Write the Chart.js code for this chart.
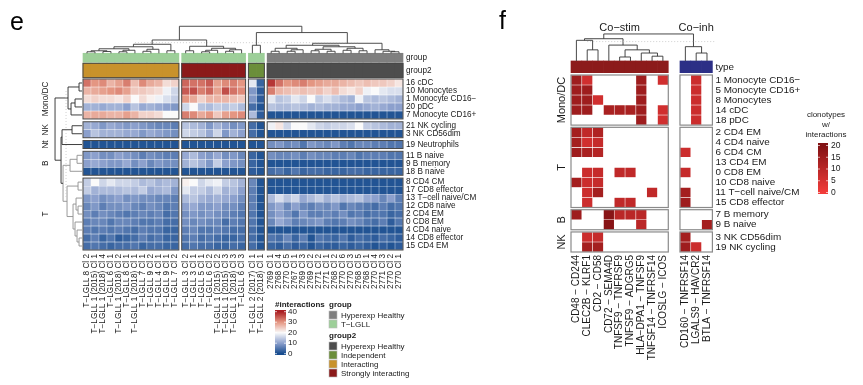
<!DOCTYPE html>
<html>
<head>
<meta charset="utf-8">
<script src="https://cdn.jsdelivr.net/npm/chart.js@4.4.1/dist/chart.umd.min.js"></script>
<style>
  html, body { margin: 0; padding: 0; background: #fff; }
  #wrap { position: relative; width: 863px; height: 385px; overflow: hidden; }
  canvas { position: absolute; top: 0; }
</style>
</head>
<body>
<div id="wrap">
  <canvas id="chartE" width="520" height="385" style="left:0"></canvas>
  <canvas id="chartF" width="432" height="385" style="left:431px"></canvas>
</div>
<script>
const FONT = '"Liberation Sans", Arial, sans-serif';

// ---------- panel e : clones x cell types ----------
const eColBlocks = [
  ['T−LGLL 8 Cl 2', 'T−LGLL 1 (2015) Cl 1', 'T−LGLL 1 (2018) Cl 4', 'T−LGLL 6 Cl 1', 'T−LGLL 1 (2018) Cl 2', 'T−LGLL 8 Cl 1',
   'T−LGLL 1 (2018) Cl 1', 'T−LGLL 7 Cl 1', 'T−LGLL 9 Cl 2', 'T−LGLL 4 Cl 1', 'T−LGLL 9 Cl 1', 'T−LGLL 7 Cl 2'],
  ['T−LGLL 3 Cl 2', 'T−LGLL 3 Cl 1', 'T−LGLL 5 Cl 1', 'T−LGLL 6 Cl 2', 'T−LGLL 1 (2015) Cl 2', 'T−LGLL 1 (2015) Cl 3',
   'T−LGLL 1 (2018) Cl 3', 'T−LGLL 6 Cl 3'],
  ['T−LGLL 2 (2017) Cl 1', 'T−LGLL 2 (2018) Cl 1'],
  ['2769 Cl 1', '2768 Cl 4', '2770 Cl 5', '2767 Cl 1', '2769 Cl 3', '2769 Cl 2', '2771 Cl 2', '2771 Cl 1', '2768 Cl 2',
   '2770 Cl 6', '2770 Cl 3', '2768 Cl 5', '2768 Cl 1', '2770 Cl 4', '2771 Cl 3', '2770 Cl 2', '2770 Cl 1']
];
const eBlockGroup = ['T−LGLL', 'T−LGLL', 'T−LGLL', 'Hyperexp Healthy'];
const eBlockGroup2 = ['Interacting', 'Strongly interacting', 'Independent', 'Hyperexp Healthy'];

const eRowBlockNames = ['Mono/DC', 'NK', 'Nt', 'B', 'T'];
const eRowLabels = [
  ['16 cDC', '10 Monocytes', '1 Monocyte CD16−', '20 pDC', '7 Monocyte CD16+'],
  ['21 NK cycling', '3 NK CD56dim'],
  ['19 Neutrophils'],
  ['11 B naive', '9 B memory', '18 B naive'],
  ['8 CD4 CM', '17 CD8 effector', '13 T−cell naive/CM', '12 CD8 naive', '2 CD4 EM', '0 CD8 EM', '4 CD4 naive',
   '14 CD8 effector', '15 CD4 EM']
];

// #interactions, 12 + 8 + 2 + 17 clones per row
const eMonoDC = [
  [33,30,31,27,29,32,26,31,28,27,23,24, 34,33,33,35,29,31,32,30, 18,3, 38,33,30,31,32,30,29,28,28,27,26,25,26,25,25,24,22],
  [27,28,29,30,31,29,25,25,24,23,19,16, 35,36,32,34,29,36,33,31, 9,2, 32,27,26,25,26,25,26,24,26,23,22,24,19,20,18,17,17],
  [23,24,23,23,22,24,20,23,21,19,17,15, 30,28,24,27,27,27,26,25, 9,2, 18,14,15,18,16,20,15,17,15,13,12,19,14,13,14,13,12],
  [12,12,11,12,12,10,14,11,12,11,10,9, 16,20,14,13,15,14,15,13, 4,1, 14,13,13,14,13,12,13,12,12,11,11,10,11,12,11,10,10],
  [27,28,28,27,27,29,27,24,24,23,20,20, 32,31,28,30,25,29,30,31, 13,2, 1,1,1,1,1,1,1,1,1,1,1,1,1,1,1,1,1]
];
const eNK = [
  [12,11,9,11,10,9,10,9,8,7,7,6, 14,13,12,9,12,10,8,9, 4,1, 19,22,16,20,20,18,16,15,16,16,17,20,15,14,13,12,12],
  [10,14,12,12,12,11,11,9,11,10,9,8, 16,15,14,11,16,9,12,10, 4,1, 1,1,1,1,1,1,1,1,1,1,1,1,1,1,1,1,1]
];
const eNt = [
  [1,1,1,1,1,1,1,1,1,1,1,1, 1,1,1,1,1,1,1,1, 1,1, 8,9,7,8,5,9,8,7,9,6,5,7,7,6,6,5,5]
];
const eB = [
  [9,10,8,8,10,9,8,6,8,7,6,6, 11,13,10,9,11,8,9,7, 3,1, 8,7,7,8,6,8,7,7,6,6,7,5,6,6,6,5,5],
  [10,11,10,9,9,11,8,10,7,9,8,8, 12,14,12,9,15,10,9,8, 3,1, 1,1,1,1,1,1,1,1,1,1,1,1,1,1,1,1,1],
  [1,1,1,1,1,1,1,1,1,1,1,1, 1,1,1,1,1,1,1,1, 2,1, 4,5,3,5,3,4,4,3,3,3,4,4,3,3,3,3,3]
];
const eT = [
  [15,20,16,18,16,16,15,13,14,12,13,12, 21,20,16,18,19,15,14,12, 7,1, 1,1,1,1,1,1,1,1,1,1,1,1,1,1,1,1,1],
  [15,12,13,13,13,14,13,15,11,12,13,9, 18,15,15,13,16,12,13,10, 6,1, 1,1,1,1,1,1,1,1,1,1,1,1,1,1,1,1,1],
  [9,10,8,9,10,8,9,8,8,7,7,6, 13,14,12,11,12,11,10,8, 6,1, 13,17,14,16,11,13,15,12,14,12,13,14,11,10,7,10,6],
  [7,9,6,8,8,9,7,6,8,7,5,6, 10,11,9,9,10,8,8,6, 6,1, 9,11,7,10,7,6,8,7,9,5,7,6,5,4,6,4,5],
  [8,6,8,7,6,5,6,7,6,7,4,5, 8,9,8,9,8,7,6,5, 5,1, 8,10,8,5,9,6,6,7,6,8,5,6,4,5,5,3,4],
  [6,7,7,5,7,7,6,5,5,6,4,4, 8,7,8,7,7,4,6,5, 5,1, 7,11,9,6,7,8,9,6,5,6,8,7,5,4,6,2,5],
  [6,5,6,5,6,5,4,6,5,5,3,3, 6,7,5,5,6,5,4,4, 4,1, 1,1,1,1,1,1,1,1,1,1,1,1,1,1,1,1,1],
  [4,6,3,5,2,3,4,6,4,5,3,3, 5,6,4,5,4,3,3,4, 4,1, 5,4,7,3,6,1,5,4,3,5,2,4,3,2,4,3,2],
  [4,5,4,3,4,4,5,3,4,4,3,3, 4,5,4,4,3,3,4,3, 4,1, 3,2,4,2,3,1,3,2,2,3,2,3,2,1,2,1,2]
];

// dendrograms: [height, left, right, (colour)], leaves are column / row indices
const eColTree = [27,
  [13.3,
    [9, [6.5, [4.5, [2.5, [1.5, 0, 1], [1.8, 2, 3]], [3, [1.5, 4, 5], 6]], [4, [2, 7, 8], 9]], [2.5, 10, 11]],
    [7, [2.5, 12, 13], [5, [3, [1.5, 14, 15], 16], [3.5, [2, 17, 18], 19]]]],
  [20.7,
    [8, 20, 21],
    [10, [8, [5, [2, 22, 23], [3.5, [2, 24, 25], 26]], [6.5, [4, [2.5, 27, 28], [2, 29, 30]], [5, [3, 31, 32], [2.5, 33, 34]]]],
         [3.5, 35, [2, 36, [1.5, 37, 38]]]]]];
const eRowTree = [27,
  [14, [3, 0, 1], [11, [7, 2, 3], 4]],
  [21,
    [20, [10, 5, 6], 7],
    [19, [12, [5, 8, 9], 10],
         [15, [4, 11, 12], [9, [6, 13, [4, 14, 15]], [7, 16, [5, 17, [3, 18, 19]]]]], '#8f8f8f']]];

// ---------- panel f : ligand - receptor pairs ----------
const fColBlocks = [
  ['CD48 − CD244', 'CLEC2B − KLRF1', 'CD2 − CD58', 'CD72 − SEMA4D', 'TNFSF9 − TNFRSF9', 'TNFSF9 − ADGRG5',
   'HLA−DPA1 − TNFSF9', 'TNFSF14 − TNFRSF14', 'ICOSLG − ICOS'],
  ['CD160 − TNFRSF14', 'LGALS9 − HAVCR2', 'BTLA − TNFRSF14']
];
const fBlockType = ['Co−stim', 'Co−inh'];
const fRowBlockNames = ['Mono/DC', 'T', 'B', 'NK'];
const fRowLabels = [
  ['1 Monocyte CD16−', '5 Monocyte CD16+', '8 Monocytes', '14 cDC', '18 pDC'],
  ['2 CD4 EM', '4 CD4 naive', '6 CD4 CM', '13 CD4 EM', '0 CD8 EM', '10 CD8 naive', '11 T−cell naive/CM', '15 CD8 effector'],
  ['7 B memory', '9 B naive'],
  ['3 NK CD56dim', '19 NK cycling']
];
// clonotypes w/ interactions (null = none), 9 co-stim + 3 co-inh
const fMonoDC = [
  [15,6,null,null,null,null,15,null,6, null,7,null],
  [15,15,null,null,null,null,15,null,null, null,7,null],
  [15,15,6,null,null,null,15,null,null, null,7,null],
  [15,15,null,13,13,13,15,null,6, null,7,null],
  [null,null,null,null,null,null,15,null,6, null,7,null]
];
const fT = [
  [14,9,12,null,null,null,null,null,null, null,null,null],
  [14,6,8,null,null,null,null,null,null, null,null,null],
  [15,13,11,null,null,null,null,null,null, 7,null,null],
  [null,null,null,null,null,null,null,null,null, null,null,null],
  [null,7,8,null,9,9,null,null,null, 8,null,null],
  [14,7,8,null,null,null,null,null,null, null,null,null],
  [null,7,14,null,null,null,null,9,null, 14,null,null],
  [null,7,null,null,9,9,null,null,null, 15,null,null]
];
const fB = [
  [15,null,null,19,10,10,10,null,null, null,null,null],
  [null,null,null,19,null,null,10,null,null, null,null,14]
];
const fNK = [
  [null,7,8,null,null,null,null,null,null, 14,null,null],
  [null,14,14,null,null,null,null,null,null, 15,7,null]
];
const fColTree = [17,
  [14, [13, 0, [7, 1, 2]], [10, 3, [7, [2.5, 4, 5], [5, 6, [3, 7, 8]]]]],
  [9, 9, [5, 10, 11]]];

// ---------- helpers ----------
const eStops = [[0, [22, 75, 142]], [10, [140, 160, 205]], [20, [250, 250, 250]], [30, [228, 150, 130]], [40, [170, 30, 35]]];
const fStops = [[0, [242, 60, 58]], [20, [130, 18, 20]]];
function ramp(stops, v) {
  for (let i = 1; i < stops.length; i++) {
    if (v <= stops[i][0] || i === stops.length - 1) {
      const [v0, c0] = stops[i - 1], [v1, c1] = stops[i];
      const t = Math.max(0, Math.min(1, (v - v0) / (v1 - v0)));
      return 'rgb(' + c0.map((c, k) => Math.round(c + (c1[k] - c) * t)).join(',') + ')';
    }
  }
}
const groupColors = { 'Hyperexp Healthy': '#7f7f7f', 'T−LGLL': '#9dcf99' };
const group2Colors = { 'Hyperexp Healthy': '#4d4d4d', 'Independent': '#6b8e3a', 'Interacting': '#c8922b', 'Strongly interacting': '#8b1a1a' };
const typeColors = { 'Co−stim': '#8c1b1b', 'Co−inh': '#2c2f86' };

function layoutBlocks(sizes, gap) {
  const pos = [], spans = [];
  let off = 0;
  sizes.forEach(n => {
    spans.push([off, off + n]);
    for (let i = 0; i < n; i++) pos.push(off + i + 0.5);
    off += n + gap;
  });
  return { pos, spans, max: off - gap };
}
function fixTicks(scale) { scale.ticks = [{ value: scale.min }, { value: scale.max }]; }

function drawTree(ctx, node, leafPos, pt, color) {
  if (typeof node === 'number') return { p: leafPos[node], h: 0 };
  const [h, a, b, own] = node;
  const col = own || color;
  const A = drawTree(ctx, a, leafPos, pt, col), B = drawTree(ctx, b, leafPos, pt, col);
  ctx.strokeStyle = col;
  ctx.beginPath();
  ctx.moveTo(...pt(A.p, A.h)); ctx.lineTo(...pt(A.p, h));
  ctx.lineTo(...pt(B.p, h)); ctx.lineTo(...pt(B.p, B.h));
  ctx.stroke();
  return { p: (A.p + B.p) / 2, h };
}
function rotText(ctx, txt, x, y, align) {
  ctx.save(); ctx.translate(x, y); ctx.rotate(-Math.PI / 2);
  ctx.textAlign = align; ctx.fillText(txt, 0, 0); ctx.restore();
}

// ---------- panel e ----------
const eCols = eColBlocks.flat();
const eRows = eRowLabels.flat();
const eValues = [...eMonoDC, ...eNK, ...eNt, ...eB, ...eT];
const eX = layoutBlocks(eColBlocks.map(b => b.length), 0.35);
const eY = layoutBlocks(eRowLabels.map(b => b.length), 0.35);
const eGroup = eColBlocks.flatMap((b, i) => b.map(() => eBlockGroup[i]));
const eGroup2 = eColBlocks.flatMap((b, i) => b.map(() => eBlockGroup2[i]));
const E_G1 = [-3.22, -2.09], E_G2 = [-1.965, -0.165], E_TREE_BASE = -3.22, E_K = 1 / 7.99;

const eDatasets = eValues.map((vals, r) => ({
  data: vals.map((v, j) => ({ x: eX.pos[j], y: [eY.pos[r] - 0.5, eY.pos[r] + 0.5] })),
  backgroundColor: vals.map(v => ramp(eStops, v)),
  borderColor: 'rgba(255,255,255,0.28)', borderWidth: 0.5
}));
eDatasets.push({
  data: eCols.map((c, j) => ({ x: eX.pos[j], y: E_G1 })),
  backgroundColor: eGroup.map(g => groupColors[g]), borderWidth: 0, clip: false
});
eDatasets.push({
  data: eCols.map((c, j) => ({ x: eX.pos[j], y: E_G2 })),
  backgroundColor: eGroup2.map(g => group2Colors[g]), borderWidth: 0, clip: false
});

const eDecor = {
  id: 'eDecor',
  afterDraw(chart) {
    const { ctx, chartArea: a, scales: { x, y } } = chart;
    const X = v => x.getPixelForValue(v), Y = v => y.getPixelForValue(v);
    ctx.save();
    // block outlines
    ctx.strokeStyle = '#474747'; ctx.lineWidth = 1;
    eX.spans.forEach(([c0, c1]) => {
      eY.spans.forEach(([r0, r1]) => ctx.strokeRect(X(c0), Y(r0), X(c1) - X(c0), Y(r1) - Y(r0)));
      ctx.strokeRect(X(c0), Y(E_G2[0]), X(c1) - X(c0), Y(E_G2[1]) - Y(E_G2[0]));
    });
    // dendrograms
    ctx.lineWidth = 0.9;
    drawTree(ctx, eColTree, eX.pos, (p, h) => [X(p), Y(E_TREE_BASE - h * E_K)], '#3a3a3a');
    drawTree(ctx, eRowTree, eY.pos, (p, h) => [X(-0.12 - h * E_K), Y(p)], '#2a2a2a');
    ctx.setLineDash([1, 2]); ctx.strokeStyle = '#c4c4c4'; ctx.lineWidth = 0.8;
    ctx.beginPath();
    ctx.moveTo(X(eX.pos[6]), Y(E_TREE_BASE - 10.6 * E_K)); ctx.lineTo(X(eX.pos[33]), Y(E_TREE_BASE - 10.6 * E_K));
    ctx.moveTo(X(-0.12 - 16 * E_K), Y(eY.pos[1])); ctx.lineTo(X(-0.12 - 16 * E_K), Y(eY.pos[13]));
    ctx.stroke(); ctx.setLineDash([]);
    // labels
    ctx.fillStyle = '#1a1a1a'; ctx.textBaseline = 'middle';
    ctx.font = '8.2px ' + FONT; ctx.textAlign = 'left';
    eRows.forEach((lab, r) => ctx.fillText(lab, a.right + 3, Y(eY.pos[r])));
    ctx.fillText('group', a.right + 3, Y((E_G1[0] + E_G1[1]) / 2));
    ctx.fillText('group2', a.right + 3, Y((E_G2[0] + E_G2[1]) / 2));
    eCols.forEach((lab, j) => rotText(ctx, lab, X(eX.pos[j]), a.bottom + 4, 'right'));
    eRowBlockNames.forEach((n, i) => rotText(ctx, n, a.left - 37, Y((eY.spans[i][0] + eY.spans[i][1]) / 2), 'center'));
    // panel letter
    ctx.font = '25px ' + FONT; ctx.textBaseline = 'alphabetic'; ctx.fillStyle = '#000';
    ctx.fillText('e', 10, 30);
    // legend: colour bar
    ctx.fillStyle = '#1a1a1a'; ctx.font = 'bold 8px ' + FONT;
    ctx.fillText('#interactions', 275, 307);
    ctx.fillText('group', 329, 307);
    ctx.fillText('group2', 329, 338);
    const cbTop = 310, cbBot = 355, cbX = 275, cbW = 11;
    const vy = v => 311.7 + (40 - v) / 40 * 42;
    for (let py = cbTop; py < cbBot; py++) {
      ctx.fillStyle = ramp(eStops, 40 - (py + 0.5 - 311.7) / 42 * 40);
      ctx.fillRect(cbX, py, cbW, 1);
    }
    ctx.font = '8px ' + FONT; ctx.textBaseline = 'middle';
    ctx.strokeStyle = 'rgba(255,255,255,0.9)'; ctx.lineWidth = 0.8;
    [40, 30, 20, 10, 0].forEach(v => {
      ctx.beginPath();
      ctx.moveTo(cbX, vy(v)); ctx.lineTo(cbX + 2, vy(v));
      ctx.moveTo(cbX + cbW - 2, vy(v)); ctx.lineTo(cbX + cbW, vy(v));
      ctx.stroke();
      ctx.fillStyle = '#1a1a1a'; ctx.fillText(String(v), cbX + cbW + 2, vy(v));
    });
    // legend: swatches
    const sw = (col, label, top) => {
      ctx.fillStyle = col; ctx.fillRect(329, top, 8, 8);
      ctx.strokeStyle = '#bdbdbd'; ctx.lineWidth = 0.6; ctx.strokeRect(329, top, 8, 8);
      ctx.fillStyle = '#1a1a1a'; ctx.fillText(label, 341, top + 4.3);
    };
    ['Hyperexp Healthy', 'T−LGLL'].forEach((g, i) => sw(groupColors[g], g, 311 + i * 9));
    ['Hyperexp Healthy', 'Independent', 'Interacting', 'Strongly interacting'].forEach((g, i) => sw(group2Colors[g], g, 342 + i * 9));
    ctx.restore();
  }
};

new Chart(document.getElementById('chartE'), {
  type: 'bar',
  data: { datasets: eDatasets },
  options: {
    responsive: false, animation: false, events: [],
    layout: { padding: { left: 83, top: 79, right: 117, bottom: 135 } },
    plugins: { legend: { display: false }, tooltip: { enabled: false } },
    datasets: { bar: { grouped: false, barPercentage: 1, categoryPercentage: 1, borderSkipped: false } },
    scales: {
      x: { type: 'linear', display: false, offset: false, min: 0, max: eX.max, afterBuildTicks: fixTicks },
      y: { type: 'linear', display: false, offset: false, min: 0, max: eY.max, reverse: true, afterBuildTicks: fixTicks }
    }
  },
  plugins: [eDecor]
});

// ---------- panel f ----------
const fCols = fColBlocks.flat();
const fRows = fRowLabels.flat();
const fValues = [...fMonoDC, ...fT, ...fB, ...fNK];
const fX = layoutBlocks(fColBlocks.map(b => b.length), 1.08);
const fY = layoutBlocks(fRowLabels.map(b => b.length), 0.22);
const fType = fColBlocks.flatMap((b, i) => b.map(() => fBlockType[i]));
const F_TYPE = [-1.40, -0.23], F_K = 0.1585;

const fDatasets = fValues.map((vals, r) => {
  const cells = vals.map((v, j) => ({ v, x: fX.pos[j], y: [fY.pos[r] - 0.5, fY.pos[r] + 0.5] })).filter(c => c.v !== null);
  return {
    data: cells,
    backgroundColor: cells.map(c => ramp(fStops, c.v)),
    borderColor: 'rgba(255,255,255,0.35)', borderWidth: 0.6
  };
});
fDatasets.push({
  data: fCols.map((c, j) => ({ x: fX.pos[j], y: F_TYPE })),
  backgroundColor: fType.map(t => typeColors[t]), borderWidth: 0, clip: false
});

const fDecor = {
  id: 'fDecor',
  afterDraw(chart) {
    const { ctx, chartArea: a, scales: { x, y } } = chart;
    const X = v => x.getPixelForValue(v), Y = v => y.getPixelForValue(v);
    ctx.save();
    ctx.strokeStyle = '#8a8a8a'; ctx.lineWidth = 1.2;
    fX.spans.forEach(([c0, c1]) => {
      fY.spans.forEach(([r0, r1]) => ctx.strokeRect(X(c0), Y(r0), X(c1) - X(c0), Y(r1) - Y(r0)));
    });
    ctx.lineWidth = 0.9;
    drawTree(ctx, fColTree, fX.pos, (p, h) => [X(p), Y(F_TYPE[0] - h * F_K)], '#333');
    ctx.setLineDash([1, 2]); ctx.strokeStyle = '#c4c4c4'; ctx.lineWidth = 0.8;
    ctx.beginPath();
    ctx.moveTo(X(fX.pos[1]), Y(F_TYPE[0] - 12.2 * F_K)); ctx.lineTo(X(fX.pos[11] + 0.8), Y(F_TYPE[0] - 12.2 * F_K));
    ctx.stroke(); ctx.setLineDash([]);

    ctx.fillStyle = '#1a1a1a'; ctx.textBaseline = 'middle';
    ctx.font = '9.9px ' + FONT; ctx.textAlign = 'left';
    fRows.forEach((lab, r) => ctx.fillText(lab, a.right + 3, Y(fY.pos[r])));
    ctx.fillText('type', a.right + 3, Y((F_TYPE[0] + F_TYPE[1]) / 2));
    ctx.font = '10px ' + FONT;
    fCols.forEach((lab, j) => rotText(ctx, lab, X(fX.pos[j]), a.bottom + 3, 'right'));
    ctx.font = '11px ' + FONT;
    fRowBlockNames.forEach((n, i) => rotText(ctx, n, a.left - 9, Y((fY.spans[i][0] + fY.spans[i][1]) / 2), 'center'));
    ctx.textBaseline = 'alphabetic'; ctx.textAlign = 'center';
    fBlockType.forEach((t, i) => ctx.fillText(t, X((fX.spans[i][0] + fX.spans[i][1]) / 2), 31));
    ctx.font = '25px ' + FONT; ctx.textAlign = 'left'; ctx.fillStyle = '#000';
    ctx.fillText('f', 68, 29);
    // legend
    ctx.fillStyle = '#1a1a1a'; ctx.font = '8px ' + FONT; ctx.textAlign = 'center';
    ctx.fillText('clonotypes', 395, 117);
    ctx.fillText('w/', 395, 127);
    ctx.fillText('interactions', 395, 137);
    const cbX = 387, cbW = 10, top = 143, bot = 194;
    const vy = v => 145.5 + (20 - v) / 20 * 47;
    for (let py = top; py < bot; py++) {
      ctx.fillStyle = ramp(fStops, 20 - (py + 0.5 - 145.5) / 47 * 20);
      ctx.fillRect(cbX, py, cbW, 1);
    }
    ctx.textAlign = 'left'; ctx.textBaseline = 'middle'; ctx.font = '8.5px ' + FONT;
    ctx.strokeStyle = 'rgba(255,255,255,0.8)'; ctx.lineWidth = 0.8;
    [20, 15, 10, 5, 0].forEach(v => {
      ctx.beginPath();
      ctx.moveTo(cbX, vy(v)); ctx.lineTo(cbX + 2, vy(v));
      ctx.moveTo(cbX + cbW - 2, vy(v)); ctx.lineTo(cbX + cbW, vy(v));
      ctx.stroke();
      ctx.fillStyle = '#1a1a1a'; ctx.fillText(String(v), cbX + cbW + 3, vy(v));
    });
    ctx.restore();
  }
};

new Chart(document.getElementById('chartF'), {
  type: 'bar',
  data: { datasets: fDatasets },
  options: {
    responsive: false, animation: false, events: [],
    layout: { padding: { left: 140, top: 75, right: 150.6, bottom: 133 } },
    plugins: { legend: { display: false }, tooltip: { enabled: false } },
    datasets: { bar: { grouped: false, barPercentage: 1, categoryPercentage: 1, borderSkipped: false } },
    scales: {
      x: { type: 'linear', display: false, offset: false, min: 0, max: fX.max, afterBuildTicks: fixTicks },
      y: { type: 'linear', display: false, offset: false, min: 0, max: fY.max, reverse: true, afterBuildTicks: fixTicks }
    }
  },
  plugins: [fDecor]
});
</script>
</body>
</html>
